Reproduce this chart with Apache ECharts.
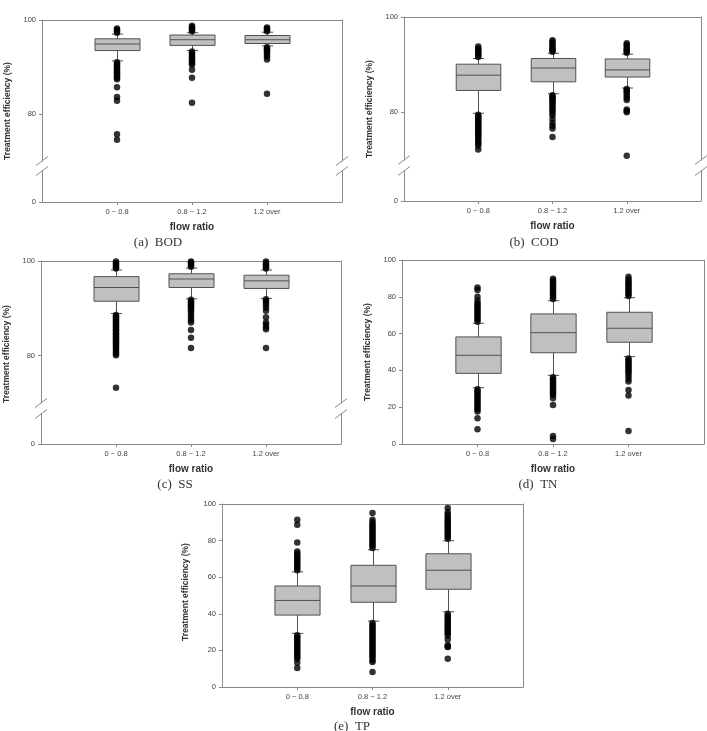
<!DOCTYPE html>
<html>
<head>
<meta charset="utf-8">
<title>Treatment efficiency by flow ratio</title>
<script src="https://cdn.jsdelivr.net/npm/echarts@6.0.0/dist/echarts.min.js"></script>
<style>
  html, body { margin: 0; padding: 0; background: #fff; }
  #main { width: 707px; height: 731px; }
</style>
</head>
<body>
<div id="main"></div>
<script>
var categories = ['0 ~ 0.8', '0.8 ~ 1.2', '1.2 over'];

// box stats per category: [lower whisker, Q1, median, Q3, upper whisker]
var bodBox = [[91.3, 93.5, 94.9, 96.0, 97.0], [93.5, 94.6, 95.8, 96.8, 97.3], [94.5, 95.0, 95.8, 96.7, 97.4]];
var bodOut = [
    [97.3, 97.6, 97.9, 98.2, 91.0, 90.7, 90.4, 90.1, 89.8, 89.5, 89.2, 88.9, 88.6, 88.3, 88.0, 87.7, 87.4, 85.7, 83.6, 82.8, 75.7, 74.5],
    [97.6, 97.9, 98.2, 98.5, 98.8, 93.3, 92.9, 92.6, 92.2, 91.9, 91.5, 91.2, 90.8, 90.5, 89.4, 87.7, 82.4],
    [97.6, 97.9, 98.2, 98.4, 94.2, 93.9, 93.7, 93.4, 93.1, 92.6, 92.2, 91.6, 84.3]
];

var codBox = [[79.8, 84.6, 87.8, 90.1, 91.3], [83.9, 86.4, 89.3, 91.3, 92.4], [85.1, 87.4, 88.9, 91.2, 92.2]];
var codOut = [
    [91.6, 91.9, 92.2, 92.5, 92.8, 93.1, 93.4, 93.8, 79.5, 79.2, 78.9, 78.6, 78.3, 78.0, 77.7, 77.4, 77.1, 76.8, 76.5, 76.2,
     75.9, 75.6, 75.3, 75.0, 74.6, 74.2, 73.8, 73.4, 73.0, 72.2],
    [92.7, 93.0, 93.3, 93.6, 94.0, 94.4, 94.8, 95.1, 83.6, 83.3, 83.0, 82.7, 82.4, 82.1, 81.6, 81.2, 80.8, 80.4, 79.9, 79.4,
     78.6, 77.8, 77.2, 76.6, 74.8],
    [92.5, 92.8, 93.1, 93.4, 93.8, 94.2, 94.5, 84.9, 84.6, 84.3, 83.9, 83.5, 83.0, 82.6, 80.6, 80.3, 80.0, 70.9]
];

var ssBox = [[88.9, 91.5, 94.4, 96.7, 98.1], [92.0, 94.4, 96.2, 97.3, 98.5], [92.1, 94.2, 95.8, 97.0, 98.1]];
var ssOut = [
    [98.4, 98.7, 99.0, 99.3, 99.6, 99.9, 88.6, 88.3, 88.0, 87.7, 87.4, 87.1, 86.8, 86.5, 86.2, 85.9, 85.6, 85.3, 85.0, 84.7,
     84.4, 84.1, 83.8, 83.5, 83.2, 82.9, 82.6, 82.3, 82.0, 81.6, 81.2, 80.8, 80.4, 80.1, 73.2],
    [98.8, 99.1, 99.4, 99.7, 99.9, 91.8, 91.5, 91.2, 90.9, 90.6, 90.3, 90.0, 89.6, 89.2, 88.6, 88.0, 87.5, 87.0, 85.4, 83.8, 81.6],
    [98.4, 98.7, 99.0, 99.3, 99.6, 99.9, 91.9, 91.6, 91.2, 90.7, 90.1, 89.5, 88.1, 87.0, 86.6, 86.0, 85.6, 81.6]
];

var tnBox = [[30.6, 38.4, 48.2, 58.2, 65.6], [37.3, 49.6, 60.5, 70.7, 77.9], [47.5, 55.3, 62.9, 71.6, 79.5]];
var tnOut = [
    [66.5, 67.5, 68.5, 69.5, 70.5, 71.5, 72.5, 73.5, 74.5, 75.5, 76.5, 78.0, 80.0, 83.7, 85.0,
     29.8, 28.8, 27.8, 26.8, 25.8, 24.8, 23.8, 22.8, 21.8, 20.8, 19.8, 18.8, 17.6, 14.0, 8.0],
    [78.8, 79.8, 80.8, 81.8, 82.8, 83.8, 84.8, 85.8, 86.8, 87.8, 88.8, 89.8,
     36.3, 35.3, 34.3, 33.3, 32.3, 31.3, 30.3, 29.3, 28.3, 27.3, 26.6, 24.8, 21.2, 4.3, 2.7],
    [80.4, 81.4, 82.4, 83.4, 84.4, 85.4, 86.4, 87.4, 88.4, 89.6, 90.9,
     46.5, 45.5, 44.5, 43.5, 42.5, 41.5, 40.5, 39.5, 38.5, 37.0, 35.5, 33.9, 29.3, 26.3, 7.1]
];

var tpBox = [[29.3, 39.3, 47.3, 55.2, 62.9], [36.0, 46.3, 55.2, 66.5, 75.0], [41.1, 53.4, 63.8, 72.8, 79.9]];
var tpOut = [
    [63.8, 64.8, 65.8, 66.8, 67.8, 68.8, 69.8, 70.8, 71.8, 73.0, 74.0, 79.0, 88.7, 91.4,
     28.3, 27.3, 26.3, 25.3, 24.3, 23.3, 22.3, 21.3, 20.3, 19.3, 18.3, 17.3, 16.3, 15.5, 13.3, 10.4],
    [76, 77, 78, 79, 80, 81, 82, 83, 84, 85, 86, 87, 88, 89, 90, 91.4, 95.1,
     35, 34, 33, 32, 31, 30, 29, 28, 27, 26, 25, 24, 23, 22, 21, 20, 19, 18, 17, 16, 14.5, 13.7, 8.2],
    [81, 82, 83, 84, 85, 86, 87, 88, 89, 90, 91, 92, 93, 94.2, 95.5, 97.8,
     40, 39, 38, 37, 36, 35, 34, 33, 32, 31, 30, 29.3, 28, 26, 23, 22, 21.9, 15.5]
];

var AXIS = '#8a8a8a';
var TXT = '#444';
var FONT = '"Liberation Sans", Arial, sans-serif';

var panels = [
    {box: bodBox, out: bodOut, caption: '(a)  BOD', left: 42, right: 342, top: 20, bottom: 202, brk: [161, 171], tx: 8, ty: 111, cx: 158, cy: 243},
    {box: codBox, out: codOut, caption: '(b)  COD', left: 404, right: 701, top: 17, bottom: 201, brk: [160, 171], tx: 370, ty: 109, cx: 534, cy: 243},
    {box: ssBox, out: ssOut, caption: '(c)  SS', left: 41, right: 341, top: 261, bottom: 444, brk: [403, 414], tx: 7, ty: 354, cx: 175, cy: 485},
    {box: tnBox, out: tnOut, caption: '(d)  TN', left: 402, right: 704, top: 260, bottom: 444, brk: null, tx: 368, ty: 352, cx: 538, cy: 485},
    {box: tpBox, out: tpOut, caption: '(e)  TP', left: 222, right: 523, top: 504, bottom: 687, brk: null, tx: 186, ty: 592, cx: 352, cy: 727}
];

var xData = [''].concat(categories, ['']);
var option = {animation: false, backgroundColor: '#fff', grid: [], xAxis: [], yAxis: [], series: [], graphic: []};

function renderBox(params, api) {
    var i = api.value(0);
    var lo = api.coord([i, api.value(1)]);
    var q1 = api.coord([i, api.value(2)]);
    var md = api.coord([i, api.value(3)]);
    var q3 = api.coord([i, api.value(4)]);
    var hi = api.coord([i, api.value(5)]);
    var band = api.size([1, 0])[0];
    var c = Math.round(lo[0]) + 0.5;
    var hw = band * 0.3;
    var cw = band * 0.075;
    var line = {stroke: '#505050', lineWidth: 1};
    return {
        type: 'group',
        children: [
            {type: 'line', shape: {x1: c, y1: hi[1], x2: c, y2: q3[1]}, style: line},
            {type: 'line', shape: {x1: c, y1: q1[1], x2: c, y2: lo[1]}, style: line},
            {type: 'line', shape: {x1: c - cw, y1: hi[1], x2: c + cw, y2: hi[1]}, style: line},
            {type: 'line', shape: {x1: c - cw, y1: lo[1], x2: c + cw, y2: lo[1]}, style: line},
            {type: 'rect', shape: {x: c - hw, y: q3[1], width: hw * 2, height: q1[1] - q3[1]},
             style: {fill: '#c0c0c0', stroke: '#505050', lineWidth: 1}},
            {type: 'line', shape: {x1: c - hw, y1: md[1], x2: c + hw, y2: md[1]}, style: line}
        ]
    };
}

function addGrid(p, top, bottom, yMin, yMax, ticks, isTop, isBottom) {
    var gi = option.grid.length;
    option.grid.push({left: p.left, top: top, width: p.right - p.left, height: bottom - top, outerBoundsMode: 'none'});
    var xi = option.xAxis.length;
    option.xAxis.push({
        type: 'category', gridIndex: gi, data: xData, boundaryGap: false, position: 'bottom', show: isBottom,
        name: 'flow ratio', nameLocation: 'middle', nameGap: 20,
        nameTextStyle: {fontFamily: FONT, fontSize: 10, fontWeight: 'bold', color: '#333'},
        axisLine: {show: true, onZero: false, lineStyle: {color: AXIS}},
        axisTick: {show: true, length: 3, interval: function (idx) { return idx > 0 && idx < xData.length - 1; }, lineStyle: {color: AXIS}},
        axisLabel: {interval: 0, margin: 6, fontFamily: FONT, fontSize: 7.5, color: TXT},
        splitLine: {show: false}
    });
    if (isTop) {
        option.xAxis.push({
            type: 'category', gridIndex: gi, data: xData, boundaryGap: false, position: 'top',
            axisLine: {show: true, onZero: false, lineStyle: {color: AXIS}},
            axisTick: {show: false}, axisLabel: {show: false}, splitLine: {show: false}
        });
    }
    var yi = option.yAxis.length;
    option.yAxis.push({
        type: 'value', gridIndex: gi, min: yMin, max: yMax, position: 'left',
        axisLine: {show: true, onZero: false, lineStyle: {color: AXIS}},
        axisTick: {show: true, length: 3, customValues: ticks, lineStyle: {color: AXIS}},
        axisLabel: {customValues: ticks, margin: 6, fontFamily: FONT, fontSize: 7.5, color: TXT},
        splitLine: {show: false}
    });
    option.yAxis.push({
        type: 'value', gridIndex: gi, min: yMin, max: yMax, position: 'right',
        axisLine: {show: true, onZero: false, lineStyle: {color: AXIS}},
        axisTick: {show: false}, axisLabel: {show: false}, splitLine: {show: false}
    });
    return {xi: xi, yi: yi};
}

panels.forEach(function (p) {
    var ax;
    if (p.brk) {
        ax = addGrid(p, p.top, p.brk[0], 70, 100, [80, 100], true, false);
        addGrid(p, p.brk[1], p.bottom, 0, 10, [0], false, true);
        // break marks on the left and right frame lines
        [p.left, p.right].forEach(function (x) {
            p.brk.forEach(function (y) {
                option.graphic.push({type: 'line', shape: {x1: x - 6, y1: y + 4.5, x2: x + 6, y2: y - 4.5},
                    style: {stroke: AXIS, lineWidth: 1}});
            });
        });
    } else {
        ax = addGrid(p, p.top, p.bottom, 0, 100, [0, 20, 40, 60, 80, 100], true, true);
    }

    option.series.push({
        type: 'custom', xAxisIndex: ax.xi, yAxisIndex: ax.yi, silent: true, z: 2,
        renderItem: renderBox,
        encode: {x: 0, y: [1, 2, 3, 4, 5]},
        data: p.box.map(function (b, i) { return [i + 1].concat(b); })
    });

    var pts = [];
    p.out.forEach(function (vals, i) {
        vals.forEach(function (v) { pts.push([i + 1, v]); });
    });
    option.series.push({
        type: 'scatter', xAxisIndex: ax.xi, yAxisIndex: ax.yi, silent: true, z: 3,
        symbolSize: 6.5, itemStyle: {color: '#000'}, data: pts
    });

    option.graphic.push({
        type: 'text', x: p.tx, y: p.ty, rotation: Math.PI / 2,
        style: {text: 'Treatment efficiency (%)', fontFamily: FONT, fontSize: 8.5, fontWeight: 'bold',
            fill: '#333', align: 'center', verticalAlign: 'middle'}
    });
    option.graphic.push({
        type: 'text', x: p.cx, y: p.cy,
        style: {text: p.caption, fontFamily: '"Liberation Serif", "DejaVu Serif", serif', fontSize: 13,
            fill: '#333', align: 'center', verticalAlign: 'middle'}
    });
});

var chart = echarts.init(document.getElementById('main'));
chart.setOption(option);
</script>
</body>
</html>
